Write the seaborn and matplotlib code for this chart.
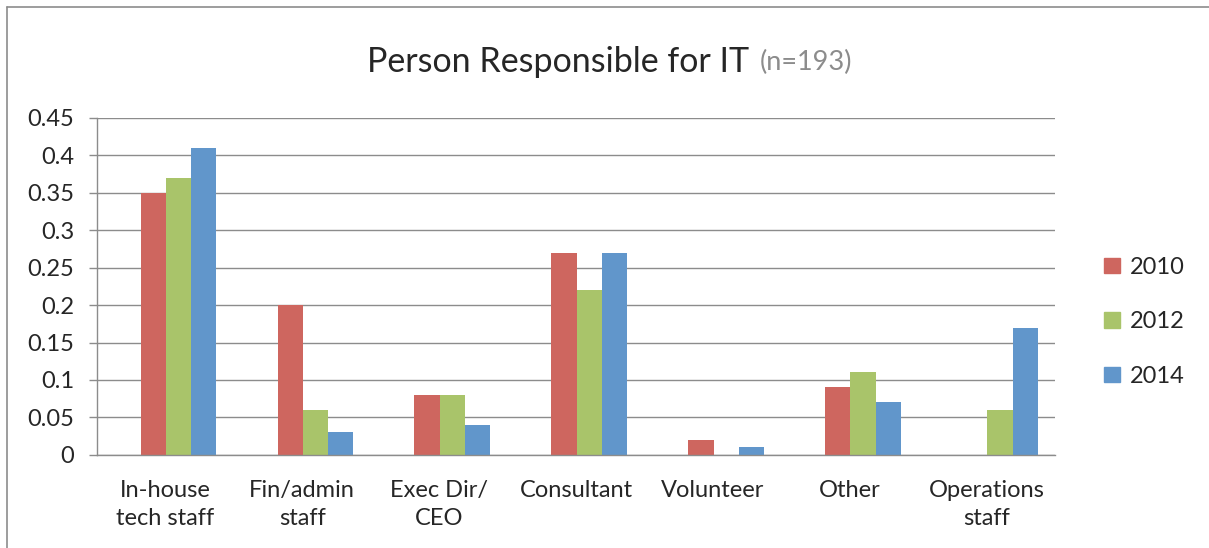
import pandas as pd
import matplotlib.pyplot as plt
import seaborn as sns
from matplotlib.lines import Line2D

# chart values
categories = ["In-house\ntech staff", "Fin/admin\nstaff", "Exec Dir/\nCEO", "Consultant",
              "Volunteer", "Other", "Operations\nstaff"]
years = ["2010", "2012", "2014"]
v2010 = [0.35, 0.20, 0.08, 0.27, 0.02, 0.09, 0.0]
v2012 = [0.37, 0.06, 0.08, 0.22, 0.0, 0.11, 0.06]
v2014 = [0.41, 0.03, 0.04, 0.27, 0.01, 0.07, 0.17]
yticks = [0, 0.05, 0.1, 0.15, 0.2, 0.25, 0.3, 0.35, 0.4, 0.45]
ytick_labels = ["0", "0.05", "0.1", "0.15", "0.2", "0.25", "0.3", "0.35", "0.4", "0.45"]

rows = []
for year, vals in zip(years, [v2010, v2012, v2014]):
    for cat, v in zip(categories, vals):
        rows.append({"Category": cat, "Year": year, "Share": v})
df = pd.DataFrame(rows)

sns.set_style("white")
plt.rcParams["font.family"] = ["Lato", "DejaVu Sans"]

colors = ["#CE665F", "#A9C46A", "#6196CB"]

fig = plt.figure(figsize=(12.09, 5.48), dpi=100)
ax = fig.add_axes([0.080, 0.170, 0.793, 0.615])

sns.barplot(data=df, x="Category", y="Share", hue="Year", order=categories,
            hue_order=years, palette=colors, width=0.55, saturation=1,
            edgecolor="none", ax=ax)

# the groups sit a little right of the category centre in the original
for p in ax.patches:
    p.set_x(p.get_x() + 0.095)

ax.set_ylim(0, 0.45)
ax.set_xlim(-0.5, len(categories) - 0.5)
ax.set_yticks(yticks)
ax.set_yticklabels(ytick_labels, fontsize=17)
ax.set_xticks(range(len(categories)))
ax.set_xticklabels(categories, fontsize=17, linespacing=1.45)
ax.set_xlabel("")
ax.set_ylabel("")
ax.yaxis.grid(True, color="#8c8c8c", linewidth=1)
ax.set_axisbelow(True)

# Excel-style ticks between categories
ax.set_xticks([i - 0.5 for i in range(len(categories) + 1)], minor=True)
ax.tick_params(axis="x", which="major", length=0, pad=18)
ax.tick_params(axis="x", which="minor", length=7, color="#8c8c8c", width=1, direction="out")
ax.tick_params(axis="y", length=6, color="#8c8c8c", width=1, direction="out", left=True, pad=10)

for side in ["top", "right"]:
    ax.spines[side].set_visible(False)
for side in ["left", "bottom"]:
    ax.spines[side].set_color("#8c8c8c")
    ax.spines[side].set_linewidth(1)

# legend
handles = [plt.Rectangle((0, 0), 1, 1, color=c) for c in colors]
ax.legend(handles, years, loc="center left", bbox_to_anchor=(1.051, 0.395), frameon=False,
          fontsize=17, handlelength=0.65, handleheight=0.65, labelspacing=1.42, handletextpad=0.45,
          borderpad=0, borderaxespad=0)

# title
fig.text(0.620, 0.886, "Person Responsible for IT", fontsize=24.5, ha="right", va="center")
fig.text(0.628, 0.886, "(n=193)", fontsize=19.5, color="#8c8c8c", ha="left", va="center")

# outer chart frame
fig.add_artist(Line2D([0.006, 0.006], [0, 0.987], transform=fig.transFigure, color="#8c8c8c", lw=1.2))
fig.add_artist(Line2D([0.006, 1.0], [0.987, 0.987], transform=fig.transFigure, color="#8c8c8c", lw=1.2))

plt.savefig("out.png", dpi=100)
plt.close()
